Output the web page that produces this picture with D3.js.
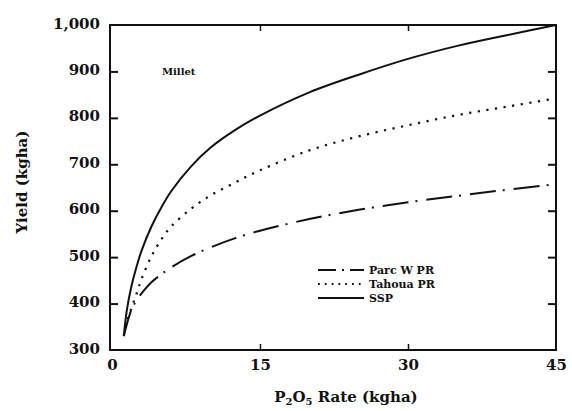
<!DOCTYPE html>
<html>
<head>
<meta charset="utf-8">
<script src="https://cdn.jsdelivr.net/npm/d3@7"></script>
<style>
  html, body { margin: 0; padding: 0; background: #fff; }
  svg { display: block; }
  text { font-family: "DejaVu Serif", "Liberation Serif", serif; font-weight: bold; fill: #111; }
</style>
</head>
<body>
<svg id="chart" width="572" height="411"></svg>
<script>
// ---- data ----
const rates = [1.2, 1.5, 2, 2.5, 3, 4, 5, 6, 8, 10, 12.5, 15, 20, 25, 30, 35, 40, 45];
const parcW   = [330, 355, 388, 407, 422, 446, 463, 478, 502, 521, 541, 557, 582, 602, 618, 632, 645, 657];
const tahoua  = [330, 360, 392, 422, 453, 502, 538, 566, 604, 633, 661, 687, 730, 760, 784, 806, 824, 842];
const ssp     = [330, 385, 440, 480, 514, 566, 607, 642, 695, 736, 774, 805, 855, 893, 927, 955, 978, 1000];
const seriesNames = ["Parc W PR", "Tahoua PR", "SSP"];
const xTicks = [0, 15, 30, 45];
const yTicks = [300, 400, 500, 600, 700, 800, 900, 1000];

const svg = d3.select("#chart");
const L = 110, R = 556, T = 25, B = 350;

const x = d3.scaleLinear().domain([-0.2, 45]).range([L, R]);
const y = d3.scaleLinear().domain([300, 1000]).range([B, T]);

const ink = "#111";

// frame
svg.append("rect").attr("x", L).attr("y", T).attr("width", R - L).attr("height", B - T)
  .attr("fill", "none").attr("stroke", ink).attr("stroke-width", 2);

// left axis
const gl = svg.append("g").attr("transform", `translate(${L},0)`)
  .call(d3.axisLeft(y).tickValues(yTicks).tickSize(-8).tickPadding(10).tickFormat(d3.format(",")));
gl.select(".domain").remove();
gl.selectAll(".tick line").attr("stroke", ink).attr("stroke-width", 2)
  .filter(d => d === 300 || d === 1000).remove();
gl.selectAll(".tick text").attr("font-size", 15).attr("dy", "0.2em")
  .attr("font-family", "DejaVu Serif").attr("font-weight", "bold").attr("fill", ink);

// right axis
const gr = svg.append("g").attr("transform", `translate(${R},0)`)
  .call(d3.axisRight(y).tickValues(yTicks.filter(d => d > 300 && d < 1000)).tickSize(-8).tickFormat(""));
gr.select(".domain").remove();
gr.selectAll(".tick line").attr("stroke", ink).attr("stroke-width", 2);

// bottom axis
const gb = svg.append("g").attr("transform", `translate(0,${B})`)
  .call(d3.axisBottom(x).tickValues(xTicks).tickSize(-6).tickPadding(9));
gb.select(".domain").remove();
gb.selectAll(".tick line").attr("stroke", ink).attr("stroke-width", 1.5)
  .filter(d => d === 0 || d === 45).remove();
gb.selectAll(".tick text").attr("font-size", 15)
  .attr("font-family", "DejaVu Serif").attr("font-weight", "bold").attr("fill", ink);

// top axis
const gt = svg.append("g").attr("transform", `translate(0,${T})`)
  .call(d3.axisTop(x).tickValues([15, 30]).tickSize(-6).tickFormat(""));
gt.select(".domain").remove();
gt.selectAll(".tick line").attr("stroke", ink).attr("stroke-width", 1.5);

// lines
const line = d3.line().x(d => x(d[0])).y(d => y(d[1])).curve(d3.curveCatmullRom.alpha(0.5));
const series = [
  { name: seriesNames[0], vals: parcW,  dash: "26,7,2,9", width: 2 },
  { name: seriesNames[1], vals: tahoua, dash: "2.2,6.5",  width: 2.2 },
  { name: seriesNames[2], vals: ssp,    dash: null,       width: 2 }
];
series.forEach(s => {
  svg.append("path")
    .datum(rates.map((r, i) => [r, s.vals[i]]))
    .attr("d", line)
    .attr("fill", "none")
    .attr("stroke", ink)
    .attr("stroke-width", s.width)
    .attr("stroke-dasharray", s.dash);
});

// legend
const lg = svg.append("g");
series.forEach((s, i) => {
  const yy = 270 + i * 14;
  lg.append("line").attr("x1", 318).attr("x2", 364).attr("y1", yy).attr("y2", yy)
    .attr("stroke", ink).attr("stroke-width", 1.8)
    .attr("stroke-dasharray", s.name === "Parc W PR" ? "18,6,2,6" : (s.name === "Tahoua PR" ? "1.8,5" : null));
  lg.append("text").attr("x", 369).attr("y", yy + 4).attr("font-size", 11).text(s.name);
});

// "Millet" label
svg.append("text").attr("x", 162).attr("y", 75).attr("font-size", 10).text("Millet");

// axis titles
svg.append("text")
  .attr("transform", "translate(27,182) rotate(-90)")
  .attr("text-anchor", "middle").attr("font-size", 15).text("Yield (kgha)");

const xt = svg.append("text").attr("x", 346).attr("y", 402).attr("text-anchor", "middle").attr("font-size", 15);
xt.append("tspan").text("P");
xt.append("tspan").attr("font-size", 10).attr("dy", 3).text("2");
xt.append("tspan").attr("dy", -3).text("O");
xt.append("tspan").attr("font-size", 10).attr("dy", 3).text("5");
xt.append("tspan").attr("dy", -3).text(" Rate (kgha)");
</script>
</body>
</html>
